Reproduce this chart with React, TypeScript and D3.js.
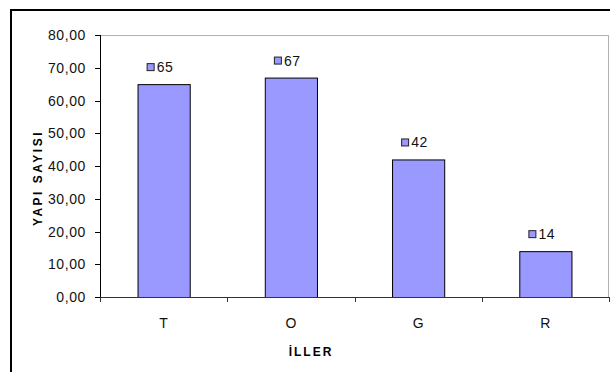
import React from "react";
import * as d3 from "d3";

const categories = ["T", "O", "G", "R"];
const values = [65, 67, 42, 14];
const yTicks = [0, 10, 20, 30, 40, 50, 60, 70, 80];
const yTitle = "YAPI SAYISI";
const xTitle = "İLLER";

const W = 610;
const H = 372;
const plot = { left: 100, right: 609, top: 35, bottom: 297 };
const font = "Arial, 'Liberation Sans', sans-serif";

export default function App() {
  const x = d3
    .scaleBand<string>()
    .domain(categories)
    .range([plot.left, plot.right])
    .paddingInner(0.59)
    .paddingOuter(0.295);
  const xb = d3.scaleBand<string>().domain(categories).range([plot.left, plot.right]);
  const y = d3.scaleLinear().domain([0, 80]).range([plot.bottom, plot.top]);
  const fmt = (v: number) => d3.format(".2f")(v).replace(".", ",");
  const boundaries = [...categories.map((c) => xb(c) as number), plot.right];

  return (
    <svg
      width={W}
      height={H}
      style={{ position: "absolute", left: 0, top: 0, background: "#fff" }}
    >
      <rect x={0} y={0} width={W} height={H} fill="#fff" />
      {/* outer frame */}
      <line x1={11} y1={10} x2={W} y2={10} stroke="#000" strokeWidth={2} />
      <line x1={11} y1={9} x2={11} y2={H} stroke="#000" strokeWidth={2} />
      {/* plot area border */}
      <line x1={plot.left} y1={plot.top + 0.5} x2={plot.right} y2={plot.top + 0.5} stroke="#b0b0b0" />
      <line x1={plot.right - 0.5} y1={plot.top} x2={plot.right - 0.5} y2={plot.bottom} stroke="#b0b0b0" />
      {/* bars */}
      {categories.map((c, i) => (
        <rect
          key={c}
          x={(x(c) as number) + 0.5}
          y={y(values[i]) + 0.5}
          width={x.bandwidth()}
          height={y(0) - y(values[i])}
          fill="#9999ff"
          stroke="#000"
          strokeWidth={1}
        />
      ))}
      {/* value labels */}
      {categories.map((c, i) => {
        const cx = (x(c) as number) + x.bandwidth() / 2;
        const ly = y(values[i]) - 17;
        return (
          <g key={"l" + c}>
            <rect x={cx - 16.5} y={ly - 3.5} width={7} height={7} fill="#9999ff" stroke="#222" strokeWidth={1} />
            <text
              x={cx - 7}
              y={ly + 5}
              fontFamily={font}
              fontSize={14}
              letterSpacing={0.5}
              fill="#111"
            >
              {values[i]}
            </text>
          </g>
        );
      })}
      {/* y axis */}
      <line x1={plot.left + 0.5} y1={plot.top} x2={plot.left + 0.5} y2={plot.bottom} stroke="#000" />
      {yTicks.map((t) => (
        <g key={"y" + t}>
          <line x1={plot.left - 5} y1={Math.round(y(t)) + 0.5} x2={plot.left} y2={Math.round(y(t)) + 0.5} stroke="#000" />
          <text
            x={86}
            y={y(t) + 5}
            textAnchor="end"
            fontFamily={font}
            fontSize={14}
            letterSpacing={0.6}
            fill="#111"
          >
            {fmt(t)}
          </text>
        </g>
      ))}
      {/* x axis */}
      <line x1={plot.left} y1={plot.bottom + 0.5} x2={plot.right} y2={plot.bottom + 0.5} stroke="#333" />
      {boundaries.map((b, i) => (
        <line key={"xt" + i} x1={Math.round(b) + 0.5} y1={plot.bottom} x2={Math.round(b) + 0.5} y2={plot.bottom + 5} stroke="#333" />
      ))}
      {categories.map((c) => (
        <text
          key={"xl" + c}
          x={(xb(c) as number) + xb.bandwidth() / 2}
          y={328}
          textAnchor="middle"
          fontFamily={font}
          fontSize={14}
          fill="#111"
        >
          {c}
        </text>
      ))}
      {/* titles */}
      <text
        x={311}
        y={356}
        textAnchor="middle"
        fontFamily={font}
        fontSize={12}
        fontWeight="bold"
        letterSpacing={2}
        fill="#000"
      >
        {xTitle}
      </text>
      <text
        transform={`translate(42,178) rotate(-90)`}
        textAnchor="middle"
        fontFamily={font}
        fontSize={12}
        fontWeight="bold"
        letterSpacing={2.5}
        fill="#000"
      >
        {yTitle}
      </text>
    </svg>
  );
}
